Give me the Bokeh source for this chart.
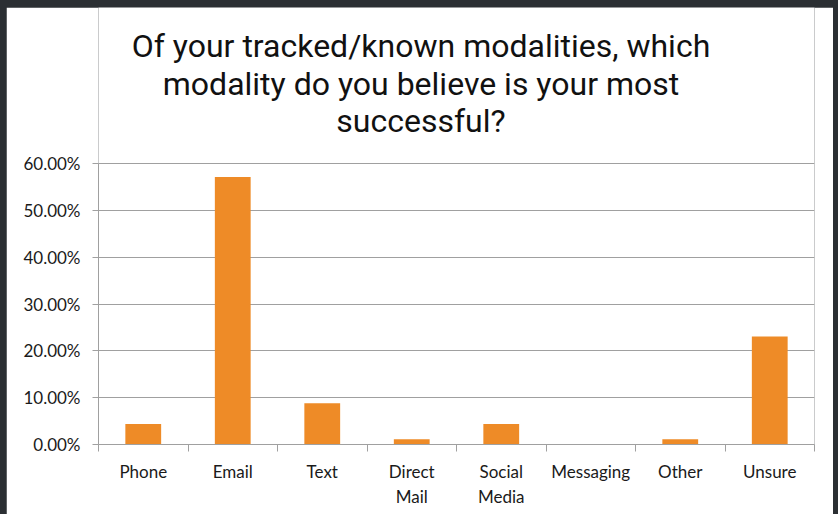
import numpy as np
from bokeh.plotting import figure
from bokeh.core.properties import value
from bokeh.models import (ColumnDataSource, FixedTicker, NumeralTickFormatter, Range1d,
                          GlobalInlineStyleSheet)
from bokeh.embed import file_html
from bokeh.resources import INLINE

categories = ["Phone", "Email", "Text", "Direct\nMail", "Social\nMedia", "Messaging", "Other", "Unsure"]
percent = [4.40, 57.14, 8.79, 1.10, 4.40, 0.0, 1.10, 23.08]
y_ticks = [0, 10, 20, 30, 40, 50, 60]
title_lines = ["Of your tracked/known modalities, which",
               "modality do you believe is your most",
               "successful?"]

# layout geometry (pixels)
FIG_W, FIG_H = 827, 507
B_LEFT, B_RIGHT, B_TOP, B_BOTTOM = 92, 19, 0, 70
FRAME_W = FIG_W - B_LEFT - B_RIGHT
FRAME_H = FIG_H - B_TOP - B_BOTTOM      # whole frame incl. title area
PLOT_H = 281                             # height used by 0..60%
NX = len(categories)
YMAX = 0.6
YTOP = YMAX * FRAME_H / PLOT_H

def row_to_y(row):
    return (FRAME_H - row) / FRAME_H * YTOP

xpos = np.arange(NX) + 0.5
src = ColumnDataSource(dict(x=xpos, top=np.array(percent) / 100.0, cat=categories))

p = figure(output_backend="svg", toolbar_location=None,
           frame_width=FRAME_W, frame_height=FRAME_H,
           min_border_left=B_LEFT, min_border_right=B_RIGHT,
           min_border_top=B_TOP, min_border_bottom=B_BOTTOM,
           x_range=Range1d(0, NX), y_range=Range1d(0, YTOP))
p.background_fill_color = "white"
p.border_fill_color = "white"
p.outline_line_color = None

# title: three centred lines
line_rows = [38, 76, 113]
p.text(x=[(FIG_W / 2 + 1 - B_LEFT) / FRAME_W * NX] * len(title_lines),
       y=[row_to_y(r) for r in line_rows], text=title_lines,
       text_align="center", text_baseline="middle",
       text_font=value("Roboto"), text_font_size="32px", text_color="#111111")

p.vbar(x="x", top="top", width=0.4, source=src, fill_color="#EE8B27", line_color=None)

# x axis: labels at category centres, tick marks at category boundaries
p.xaxis.ticker = FixedTicker(ticks=list(xpos), minor_ticks=list(range(NX + 1)))
p.xaxis.major_label_overrides = {float(x): c for x, c in zip(xpos, categories)}
p.xaxis.major_tick_line_color = None
p.xaxis.minor_tick_out = 7
p.xaxis.minor_tick_in = 0
p.xaxis.minor_tick_line_color = "#a0a0a0"
p.xaxis.axis_line_color = "#a0a0a0"
p.xaxis.major_label_text_font = "Lato"
p.xaxis.major_label_text_font_size = "17px"
p.xaxis.major_label_text_color = "#1a1a1a"
p.xaxis.major_label_text_line_height = 1.2
p.xaxis.major_label_standoff = 9

# y axis, limited to the 0..60% band
p.yaxis.ticker = FixedTicker(ticks=[v / 100.0 for v in y_ticks])
p.yaxis.formatter = NumeralTickFormatter(format="0.00%")
p.yaxis.bounds = (0, YMAX)
p.yaxis.minor_tick_line_color = None
p.yaxis.major_tick_out = 6
p.yaxis.major_tick_in = 0
p.yaxis.major_tick_line_color = "#a0a0a0"
p.yaxis.axis_line_color = "#a0a0a0"
p.yaxis.major_label_text_font = "Lato"
p.yaxis.major_label_text_font_size = "17px"
p.yaxis.major_label_text_color = "#1a1a1a"
p.yaxis.major_label_standoff = 12

p.xgrid.grid_line_color = None
p.ygrid.grid_line_color = "#a0a0a0"
p.ygrid.grid_line_width = 1

p.stylesheets = [GlobalInlineStyleSheet(
    css="html, body { margin: 0; padding: 0; background: #2b2f33; } "
        "body { padding: 7px 0 0 6px; }")]

open("out.html", "w").write(file_html(p, INLINE))
